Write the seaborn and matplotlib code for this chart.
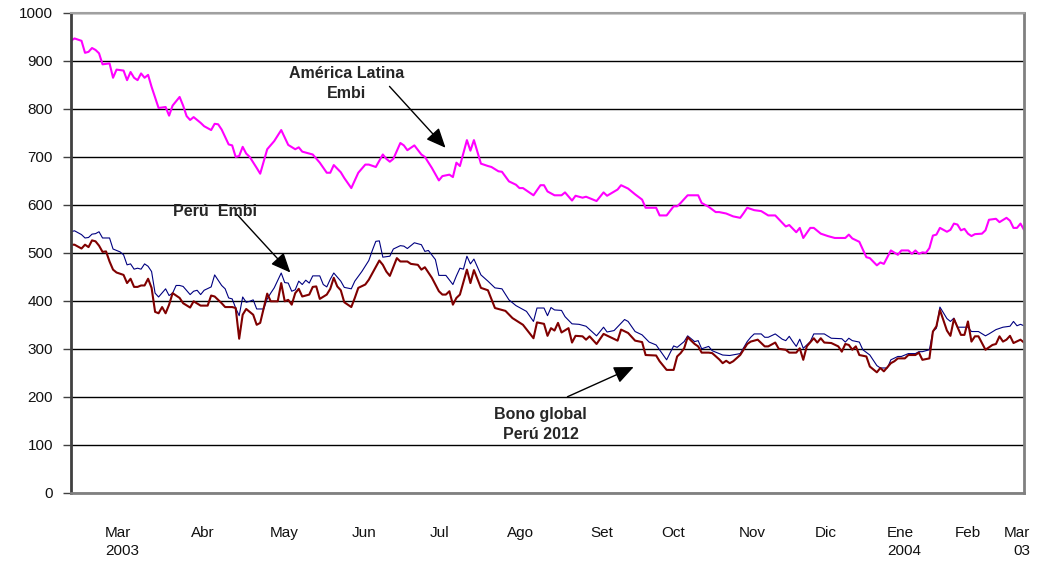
"""
Spread EMBI: América Latina, Perú y Bono global Perú 2012 (feb 2003 - mar 2004).
Eje X: día hábil (índice), Eje Y: puntos básicos.
"""

import matplotlib
matplotlib.use("Agg")
import matplotlib.pyplot as plt
import seaborn as sns
import pandas as pd

# América Latina Embi
dias_latam = [0, 1, 3, 4, 5, 6, 7, 8, 9, 11, 12, 13, 15, 16, 17, 18, 19, 20, 21, 22, 23, 25, 27, 28, 29,
              30, 31, 32, 33, 34, 35, 37, 38, 40, 41, 42, 43, 45, 46, 47, 48, 49, 50, 51, 53, 54, 56, 58,
              60, 62, 64, 65, 66, 68, 69, 71, 73, 74, 75, 77, 78, 80, 82, 84, 85, 87, 89, 90, 91, 92, 94,
              95, 96, 98, 100, 101, 103, 105, 106, 108, 109, 110, 111, 113, 114, 115, 117, 119, 120, 122,
              123, 125, 127, 128, 129, 132, 134, 135, 136, 138, 140, 141, 143, 144, 146, 147, 150, 152,
              153, 156, 157, 159, 161, 163, 164, 167, 168, 170, 172, 173, 174, 176, 179, 180, 182, 184,
              185, 187, 189, 191, 192, 193, 195, 197, 199, 201, 204, 205, 207, 208, 209, 211, 212, 214,
              216, 218, 221, 222, 223, 225, 227, 228, 230, 231, 232, 234, 236, 237, 239, 240, 241, 242,
              243, 244, 245, 246, 247, 248, 250, 251, 252, 253, 254, 255, 256, 257, 258, 260, 261, 262,
              264, 265, 267, 268, 269, 270, 271, 272]
embi_latam = [942, 947, 942, 917, 919, 927, 923, 916, 893, 895, 865, 882, 880, 860, 877, 865, 860, 874, 865,
              871, 846, 802, 804, 786, 807, 816, 825, 807, 785, 777, 783, 771, 764, 756, 769, 768, 757,
              726, 724, 700, 702, 721, 707, 700, 677, 665, 716, 733, 756, 725, 716, 720, 711, 707, 705,
              688, 667, 667, 683, 668, 656, 635, 667, 684, 684, 679, 705, 696, 690, 696, 729, 724, 714,
              724, 705, 700, 677, 651, 660, 663, 658, 688, 681, 735, 713, 735, 686, 681, 679, 670, 669,
              649, 642, 635, 635, 620, 641, 641, 628, 620, 620, 626, 609, 619, 615, 617, 608, 626, 619,
              632, 641, 634, 622, 611, 594, 594, 578, 578, 597, 597, 604, 620, 620, 604, 596, 585, 585,
              582, 576, 573, 583, 594, 589, 587, 578, 578, 555, 558, 543, 552, 531, 552, 552, 540, 535,
              531, 531, 538, 530, 523, 491, 489, 474, 480, 477, 505, 496, 505, 505, 498, 505, 498, 501,
              500, 510, 536, 538, 552, 544, 548, 561, 559, 547, 550, 540, 535, 539, 540, 547, 569, 571,
              564, 573, 567, 552, 552, 561, 548]

# Perú Embi
dias_peru = [0, 1, 3, 4, 5, 6, 7, 8, 9, 11, 12, 14, 15, 16, 17, 18, 19, 20, 21, 22, 23, 24, 25, 27, 28, 29,
             30, 31, 32, 34, 35, 36, 37, 38, 40, 41, 43, 44, 45, 46, 47, 48, 49, 50, 51, 52, 53, 55, 56, 57,
             58, 60, 61, 62, 63, 64, 65, 66, 67, 68, 69, 71, 72, 73, 74, 75, 77, 78, 80, 81, 83, 85, 86,
             87, 88, 89, 91, 92, 94, 95, 96, 98, 100, 101, 102, 104, 105, 107, 109, 110, 111, 112, 113,
             114, 115, 117, 119, 121, 123, 125, 127, 130, 132, 133, 135, 136, 137, 138, 140, 141, 143,
             145, 147, 150, 152, 153, 155, 158, 159, 161, 163, 165, 167, 170, 172, 173, 175, 176, 178,
             179, 180, 182, 183, 186, 188, 191, 193, 194, 195, 197, 198, 199, 201, 203, 204, 205, 206,
             207, 208, 209, 211, 212, 214, 215, 217, 220, 221, 222, 223, 225, 226, 228, 230, 231, 233,
             234, 236, 237, 239, 241, 242, 243, 245, 246, 247, 248, 250, 251, 252, 253, 256, 257, 259,
             261, 262, 264, 266, 268, 269, 270, 271, 272]
embi_peru = [544, 546, 538, 531, 532, 539, 540, 544, 531, 531, 508, 502, 496, 475, 477, 466, 468, 466, 477,
             472, 461, 416, 408, 425, 411, 416, 432, 432, 430, 413, 420, 422, 413, 422, 429, 454, 432, 425,
             406, 404, 385, 369, 408, 397, 399, 402, 383, 383, 404, 416, 427, 458, 438, 437, 420, 423, 441,
             434, 443, 437, 452, 452, 434, 429, 445, 458, 441, 428, 425, 441, 461, 484, 505, 524, 525, 491,
             493, 508, 515, 514, 509, 521, 517, 503, 505, 486, 453, 453, 434, 452, 468, 466, 493, 477, 487,
             454, 441, 427, 425, 402, 390, 378, 357, 385, 385, 369, 386, 381, 380, 367, 352, 351, 347, 327,
             345, 335, 338, 361, 357, 336, 329, 314, 308, 277, 306, 303, 315, 327, 315, 317, 300, 305, 296,
             287, 286, 290, 315, 324, 331, 331, 324, 324, 331, 320, 317, 326, 315, 305, 320, 301, 315, 331,
             331, 331, 322, 321, 314, 322, 317, 314, 298, 287, 265, 260, 260, 277, 284, 284, 290, 290, 294,
             294, 298, 336, 343, 387, 363, 357, 364, 345, 345, 336, 336, 327, 331, 340, 345, 347, 357, 348,
             351, 348]

# Bono global Perú 2012
dias_bono = [0, 1, 3, 4, 5, 6, 7, 8, 9, 10, 11, 12, 13, 15, 16, 17, 18, 19, 20, 21, 22, 23, 24, 25, 26, 27,
             28, 29, 31, 32, 34, 35, 37, 38, 39, 40, 41, 43, 44, 46, 47, 48, 49, 50, 52, 53, 54, 56, 57, 59,
             60, 61, 62, 63, 64, 65, 66, 68, 69, 70, 71, 73, 74, 75, 76, 77, 78, 80, 81, 82, 84, 85, 88,
             89, 90, 91, 93, 94, 96, 97, 99, 100, 101, 103, 105, 106, 107, 108, 109, 110, 111, 113, 114,
             115, 117, 119, 121, 123, 124, 126, 129, 132, 133, 135, 136, 137, 138, 139, 140, 142, 143,
             144, 146, 147, 148, 150, 152, 154, 156, 157, 159, 161, 163, 164, 167, 168, 170, 172, 173,
             174, 175, 176, 178, 179, 180, 182, 183, 185, 186, 187, 188, 189, 191, 193, 194, 196, 198,
             199, 201, 202, 204, 205, 207, 208, 209, 210, 212, 213, 214, 215, 217, 219, 220, 221, 222,
             223, 224, 225, 227, 228, 230, 231, 232, 234, 235, 236, 238, 239, 241, 242, 243, 245, 246,
             247, 248, 250, 251, 252, 254, 255, 256, 257, 258, 259, 261, 263, 264, 265, 266, 267, 268,
             269, 271, 272]
bono_2012 = [517, 517, 509, 517, 512, 526, 524, 515, 502, 503, 482, 465, 459, 454, 437, 446, 429, 429, 432,
             432, 446, 427, 377, 374, 387, 374, 392, 416, 406, 395, 386, 399, 390, 390, 390, 411, 409, 395,
             387, 387, 385, 321, 371, 383, 371, 350, 354, 415, 399, 399, 437, 399, 402, 392, 416, 425, 409,
             413, 429, 430, 404, 413, 425, 448, 430, 422, 397, 387, 406, 427, 434, 444, 484, 475, 461, 452,
             489, 482, 482, 477, 475, 465, 470, 448, 420, 413, 413, 420, 392, 406, 413, 465, 437, 464, 427,
             422, 385, 381, 379, 364, 350, 322, 355, 352, 327, 343, 338, 354, 334, 343, 313, 327, 326, 319,
             326, 310, 331, 324, 317, 340, 333, 317, 314, 287, 286, 274, 256, 256, 284, 291, 301, 324, 310,
             305, 292, 292, 291, 278, 270, 275, 270, 274, 287, 310, 315, 319, 305, 305, 313, 300, 298, 292,
             292, 301, 277, 305, 322, 313, 322, 313, 312, 305, 294, 310, 308, 298, 305, 287, 284, 263, 251,
             260, 253, 270, 274, 280, 280, 287, 287, 292, 277, 280, 336, 347, 381, 338, 327, 362, 329, 329,
             357, 315, 326, 326, 298, 308, 310, 326, 315, 319, 327, 312, 319, 313]

# etiquetas del eje X (meses)
meses = ["Mar\n2003", "Abr", "May", "Jun", "Jul", "Ago", "Set", "Oct", "Nov", "Dic", "Ene\n2004", "Feb", "Mar\n03"]
pos_meses = [14.6, 37.7, 60.9, 83.7, 105.1, 128.3, 151.4, 171.8, 194.5, 215.3, 237.8, 255.9, 270.0]


def main():
    sns.set_theme(style="white")
    plt.rcParams["font.family"] = ["Liberation Sans", "DejaVu Sans"]

    fig = plt.figure(figsize=(10.38, 5.61), dpi=100)
    ax = fig.add_axes([71 / 1038, 1 - 492.7 / 561, 953 / 1038, 479.7 / 561])

    series = [
        (dias_latam, embi_latam, "#FF00FF", 1.5),
        (dias_peru, embi_peru, "#000080", 0.8),
        (dias_bono, bono_2012, "#800000", 1.5),
    ]
    for dias, valores, color, ancho in series:
        df = pd.DataFrame({"dia": dias, "valor": valores})
        sns.lineplot(data=df, x="dia", y="valor", color=color, lw=ancho, ax=ax)

    ax.set_xlim(0, 272)
    ax.set_ylim(0, 1000)
    ax.set_xlabel("")
    ax.set_ylabel("")
    ax.set_yticks(range(0, 1001, 100))
    ax.set_axisbelow(True)
    ax.yaxis.grid(True, color="black", lw=1)
    ax.xaxis.grid(False)

    ax.set_xticks(pos_meses, meses)
    ax.tick_params(axis="x", length=0, pad=24, labelsize=11, labelcolor="#111111")
    ax.tick_params(axis="y", left=True, length=6, width=1, color="#404040", direction="out",
                   pad=7, labelsize=11, labelcolor="#111111")
    etiquetas = ax.get_xticklabels()
    for lab in etiquetas:
        lab.set_linespacing(1.4)
        lab.set_multialignment("left")
    etiquetas[-1].set_multialignment("right")

    ax.spines["left"].set_color("#404040")
    ax.spines["left"].set_linewidth(2)
    ax.spines["bottom"].set_color("#808080")
    ax.spines["bottom"].set_linewidth(2)
    ax.spines["right"].set_color("#808080")
    ax.spines["right"].set_linewidth(2)
    ax.spines["top"].set_color("#a0a0a0")
    ax.spines["top"].set_linewidth(1.5)

    flecha = dict(arrowstyle="-|>,head_length=0.8,head_width=0.35", color="black", lw=1,
                  shrinkA=0, shrinkB=0, mutation_scale=15)
    estilo = dict(fontsize=11.5, fontweight="bold", ha="center", va="center", linespacing=1.4)

    ax.text(78.6, 853, "América Latina\nEmbi", **estilo)
    ax.annotate("", xy=(106.9, 719), xytext=(90.9, 847), arrowprops=flecha)

    ax.text(41.1, 586, "Perú  Embi", **estilo)
    ax.annotate("", xy=(62.6, 459), xytext=(47.4, 580), arrowprops=flecha)

    ax.text(134, 143, "Bono global\nPerú 2012", **estilo)
    ax.annotate("", xy=(160.6, 262), xytext=(141.7, 200), arrowprops=flecha)

    fig.savefig("out.png", dpi=100)
    plt.close(fig)


if __name__ == "__main__":
    main()
